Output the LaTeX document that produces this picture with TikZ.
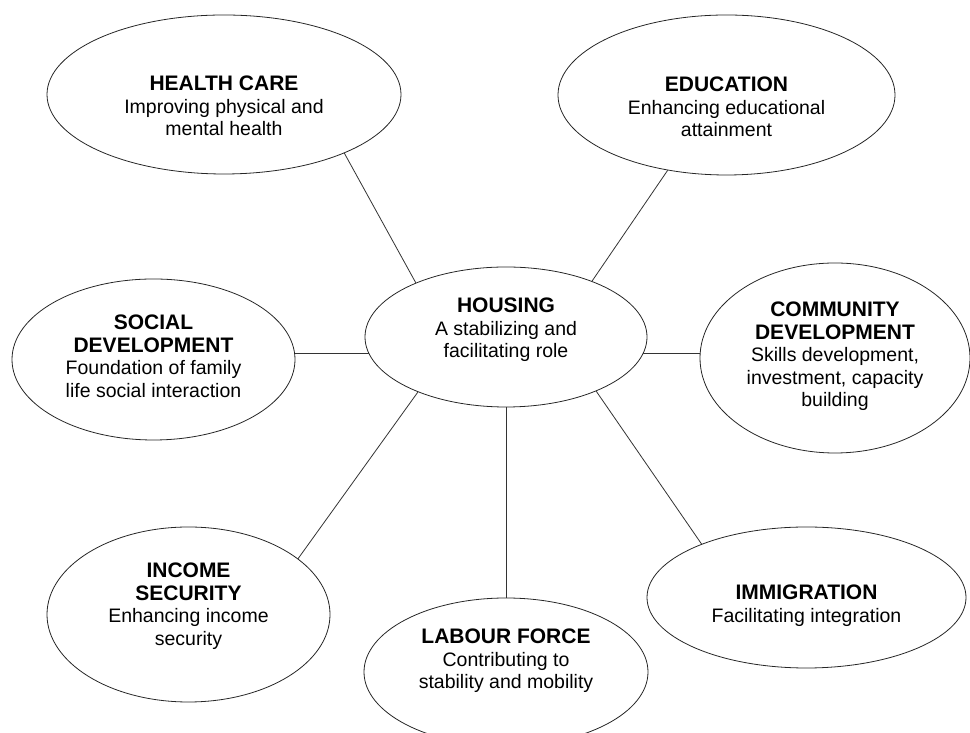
\documentclass[tikz,border=0pt]{standalone}
\usepackage{fontspec}
\setmainfont{Liberation Sans}
\usetikzlibrary{shapes.geometric}

\newcommand{\hd}[1]{{\fontsize{21}{22.5}\selectfont\bfseries #1}}

\begin{document}
\begin{tikzpicture}[x=1pt, y=1pt,
    topic/.style={ellipse, draw=black!85, line width=0.8pt, inner sep=0pt, align=center,
        font=\fontsize{19.5}{22.5}\selectfont, text depth=8pt},
    link/.style={draw=black!80, line width=0.8pt}]
    \useasboundingbox (0,0) rectangle (970,733);

    \node[topic, minimum width=282, minimum height=140, text height=50pt] (housing) at (506,396)
        {\hd{HOUSING}\\A stabilizing and\\facilitating role};
    \node[topic, minimum width=354, minimum height=159, text height=91pt] (health) at (224,638.5)
        {\hd{HEALTH CARE}\\Improving physical and\\mental health};
    \node[topic, minimum width=337, minimum height=160, text height=92pt] (education) at (726.5,638)
        {\hd{EDUCATION}\\Enhancing educational\\attainment};
    \node[topic, minimum width=283, minimum height=161, text height=84pt] (social) at (153.5,373.5)
        {\hd{SOCIAL}\\\hd{DEVELOPMENT}\\Foundation of family\\life social interaction};
    \node[topic, minimum width=270, minimum height=190, text height=106pt] (community) at (835,375)
        {\hd{COMMUNITY}\\\hd{DEVELOPMENT}\\Skills development,\\investment, capacity\\building};
    \node[topic, minimum width=283, minimum height=175, text height=70pt] (income) at (188.5,118.5)
        {\hd{INCOME}\\\hd{SECURITY}\\Enhancing income\\security};
    \node[topic, minimum width=284, minimum height=148, text height=42pt] (labour) at (506,61)
        {\hd{LABOUR FORCE}\\Contributing to\\stability and mobility};
    \node[topic, minimum width=319, minimum height=141, text height=58pt] (immigration) at (806.5,135.5)
        {\hd{IMMIGRATION}\\Facilitating integration};

    \foreach \a/\b in {health.-26/housing.149, education.232/housing.33,
                       housing.212/income.27, housing.-31/immigration.153} {
        \draw[link] (\a) -- (\b);
    }
    \draw[link] (housing.187) -- (housing.187 -| social.east);
    \draw[link] (housing.-7) -- (housing.-7 -| community.west);
    \draw[link] (housing) -- (labour);
\end{tikzpicture}
\end{document}
